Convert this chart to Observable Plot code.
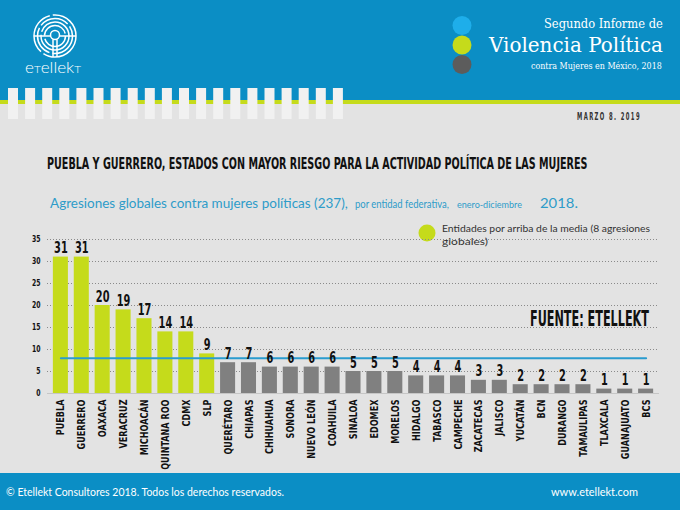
<!DOCTYPE html>
<html><head><meta charset="utf-8">
<script src="https://cdn.jsdelivr.net/npm/d3@7"></script>
<script src="https://cdn.jsdelivr.net/npm/@observablehq/plot@0.6"></script>
<style>
html,body{margin:0;padding:0;background:#e3e3e3;}
#page{position:relative;width:680px;height:510px;overflow:hidden;background:#e3e3e3;}
#bg,#fg,#chart{position:absolute;left:0;}
#bg{top:0;z-index:0}
#chart{top:225px;z-index:1}
#fg{top:473px;z-index:2}
</style></head>
<body>
<div id="page">
<svg id="bg" width="680" height="473" xmlns="http://www.w3.org/2000/svg"></svg>
<div id="chart"></div>
<svg id="fg" width="680" height="37" xmlns="http://www.w3.org/2000/svg"></svg>
</div>
<script>
// ---- data ----
const states = ["PUEBLA","GUERRERO","OAXACA","VERACRUZ","MICHOACÁN","QUINTANA ROO","CDMX","SLP","QUERÉTARO","CHIAPAS","CHIHUAHUA","SONORA","NUEVO LEÓN","COAHUILA","SINALOA","EDOMEX","MORELOS","HIDALGO","TABASCO","CAMPECHE","ZACATECAS","JALISCO","YUCATÁN","BCN","DURANGO","TAMAULIPAS","TLAXCALA","GUANAJUATO","BCS"];
const values = [31,31,20,19,17,14,14,9,7,7,6,6,6,6,5,5,5,4,4,4,3,3,2,2,2,2,1,1,1];
const mean = 8;
const yTicks = [0,5,10,15,20,25,30,35];
const title = "PUEBLA Y GUERRERO, ESTADOS CON MAYOR RIESGO PARA LA ACTIVIDAD POLÍTICA DE LAS MUJERES";
const subtitleParts = ["Agresiones globales contra mujeres políticas (237),","por entidad federativa,","enero-diciembre","2018."];
const legendLines = ["Entidades por arriba de la media (8 agresiones","globales)"];
const source = "FUENTE: ETELLEKT";
const dateText = "MARZO 8. 2019";
const headerLines = ["Segundo Informe de","Violencia Política","contra Mujeres en México, 2018"];
const footerLeft = "© Etellekt Consultores 2018. Todos los derechos reservados.";
const footerRight = "www.etellekt.com";

const TEAL = "#0b8ec5", LIME = "#c5db1b", GRAY = "#808080", BLUE = "#2a9ccf", SUB = "#2e9cc9";
const COND = "'Liberation Sans Narrow','DejaVu Sans Condensed',sans-serif";

const data = states.map((s,i)=>({state:s, value:values[i]}));

// ---- background / decorations ----
const NS = "http://www.w3.org/2000/svg";
function el(parent, tag, attrs, text){
  const e = document.createElementNS(NS, tag);
  for (const k in attrs) e.setAttribute(k, attrs[k]);
  if (text != null) e.textContent = text;
  parent.appendChild(e); return e;
}
// text placed at (x, baseline y), squeezed/stretched horizontally to a target width
function fitText(parent, x, y, w, attrs, text){
  const t = el(parent, "text", Object.assign({x:0, y:0}, attrs), text);
  const L = t.getComputedTextLength();
  const k = L > 0 ? w / L : 1;
  t.setAttribute("transform", `translate(${x},${y}) scale(${k.toFixed(4)},1)`);
  return t;
}
const bg = document.getElementById("bg");
el(bg,"rect",{x:0,y:0,width:680,height:473,fill:"#e3e3e3"});
el(bg,"rect",{x:0,y:0,width:680,height:100,fill:TEAL});
el(bg,"rect",{x:0,y:100,width:680,height:4,fill:LIME});
for (let i=0;i<20;i++) el(bg,"rect",{x:8+17.1*i,y:88,width:10,height:31,fill:"#f1f1f1"});

// logo
const g = el(bg,"g",{fill:"none",stroke:"#fff","stroke-width":1.5});
[21,17.5,14,10.5].forEach((r,i)=>el(g,"circle",{cx:55,cy:36,r, "stroke-dasharray": i%2? "30 3":"45 3"}));
el(g,"circle",{cx:55,cy:35,r:4.5});
el(g,"line",{x1:53,y1:39.5,x2:53,y2:57});
el(g,"line",{x1:57,y1:39.5,x2:57,y2:57});
el(g,"line",{x1:34,y1:36,x2:50,y2:36});
el(g,"line",{x1:60,y1:36,x2:76,y2:36});
const lg = el(bg,"text",{x:0,y:0,fill:"#fff","font-family":"Lato","font-weight":300,"font-size":15});
lg.innerHTML = 'e<tspan style="font-variant:small-caps">t</tspan>ellek<tspan style="font-variant:small-caps">t</tspan>';
lg.setAttribute("transform", `translate(25,73) scale(${(57/lg.getComputedTextLength()).toFixed(4)},1)`);

// header dots and texts
el(bg,"circle",{cx:462,cy:25.5,r:9.5,fill:"#1eaeea"});
el(bg,"circle",{cx:462,cy:45,r:9.5,fill:LIME});
el(bg,"circle",{cx:462,cy:64.5,r:9.5,fill:"#5c5c5c"});
fitText(bg,544,28,119,{fill:"#fff","font-family":"DejaVu Serif","font-size":12.5},headerLines[0]);
fitText(bg,489,52,174,{fill:"#fff","font-family":"DejaVu Serif","font-size":21},headerLines[1]);
fitText(bg,531,69,131,{fill:"#fff","font-family":"DejaVu Serif","font-size":8.5},headerLines[2]);
fitText(bg,577,120,64,{fill:"#333","font-family":COND,"font-weight":"bold","font-size":10.5,"letter-spacing":2.5},dateText);

// titles
fitText(bg,47,168.5,541,{fill:"#111","font-family":COND,"font-weight":"bold","font-size":15.5},title);
const subPos = [[50,298,13],[355,94,11.5],[457,65,10],[540,38,13]];
subtitleParts.forEach((t,i)=>fitText(bg,subPos[i][0],207.5,subPos[i][1],{fill:SUB,"font-family":"Lato","font-size":subPos[i][2]},t));

// legend
el(bg,"circle",{cx:427,cy:233,r:8.5,fill:LIME});
fitText(bg,442,232,208,{fill:"#333","font-family":"Lato","font-size":10.2},legendLines[0]);
fitText(bg,442,244.5,46,{fill:"#333","font-family":"Lato","font-size":10.2},legendLines[1]);

// source note
fitText(bg,530,325.5,119,{fill:"#111","font-family":COND,"font-weight":"bold","font-size":22},source);

// ---- chart ----
const chart = Plot.plot({
  width: 680, height: 250,
  marginTop: 14, marginBottom: 82, marginLeft: 47, marginRight: 21,
  style: {background: "transparent", fontFamily: COND, color: "#111"},
  x: {domain: states, padding: 0.28, round: false, axis: null},
  y: {domain: [0, 35], axis: null},
  color: {domain: ["above","below"], range: [LIME, GRAY]},
  marks: [
    Plot.ruleY(yTicks.filter(t => t > 0), {stroke: "#8a8a8a", strokeDasharray: "1 2", strokeWidth: 1}),
    Plot.ruleY([0], {stroke: "#c6c6c6", strokeWidth: 1}),
    Plot.barY(data, {x: "state", y: "value", fill: d => d.value > mean ? "above" : "below"}),
    Plot.line([states[0], states[states.length-1]], {x: d => d, y: () => mean, stroke: BLUE, strokeWidth: 2}),
    Plot.text(data, {x: "state", y: "value", text: d => String(d.value), dy: -4, lineAnchor: "bottom", fontSize: 16.5, fontWeight: "bold", fill: "#111"}),
    Plot.axisY({ticks: yTicks, tickSize: 0, tickPadding: 7, fontSize: 8.5, fontWeight: "bold", label: null}),
    Plot.axisX({tickSize: 0, tickRotate: -90, tickPadding: 6, fontSize: 11, fontWeight: "bold", label: null})
  ]
});
document.getElementById("chart").appendChild(chart);

// condense the chart's text horizontally (narrow display face look)
function condense(selector, k){
  chart.querySelectorAll(selector).forEach(t => {
    const L = t.getComputedTextLength();
    if (L > 0) { t.setAttribute("textLength", (L*k).toFixed(2)); t.setAttribute("lengthAdjust","spacingAndGlyphs"); }
  });
}
condense('g[aria-label="text"] text', 0.66);
condense('g[aria-label="x-axis tick label"] text', 0.82);
condense('g[aria-label="y-axis tick label"] text', 0.8);

// ---- footer ----
const fg = document.getElementById("fg");
el(fg,"rect",{x:0,y:0,width:680,height:37,fill:TEAL});
fitText(fg,6,23,278,{fill:"#fff","font-family":"Lato","font-size":11.5},footerLeft);
fitText(fg,551,23,87,{fill:"#fff","font-family":"Lato","font-size":11.5},footerRight);
</script>
</body></html>
